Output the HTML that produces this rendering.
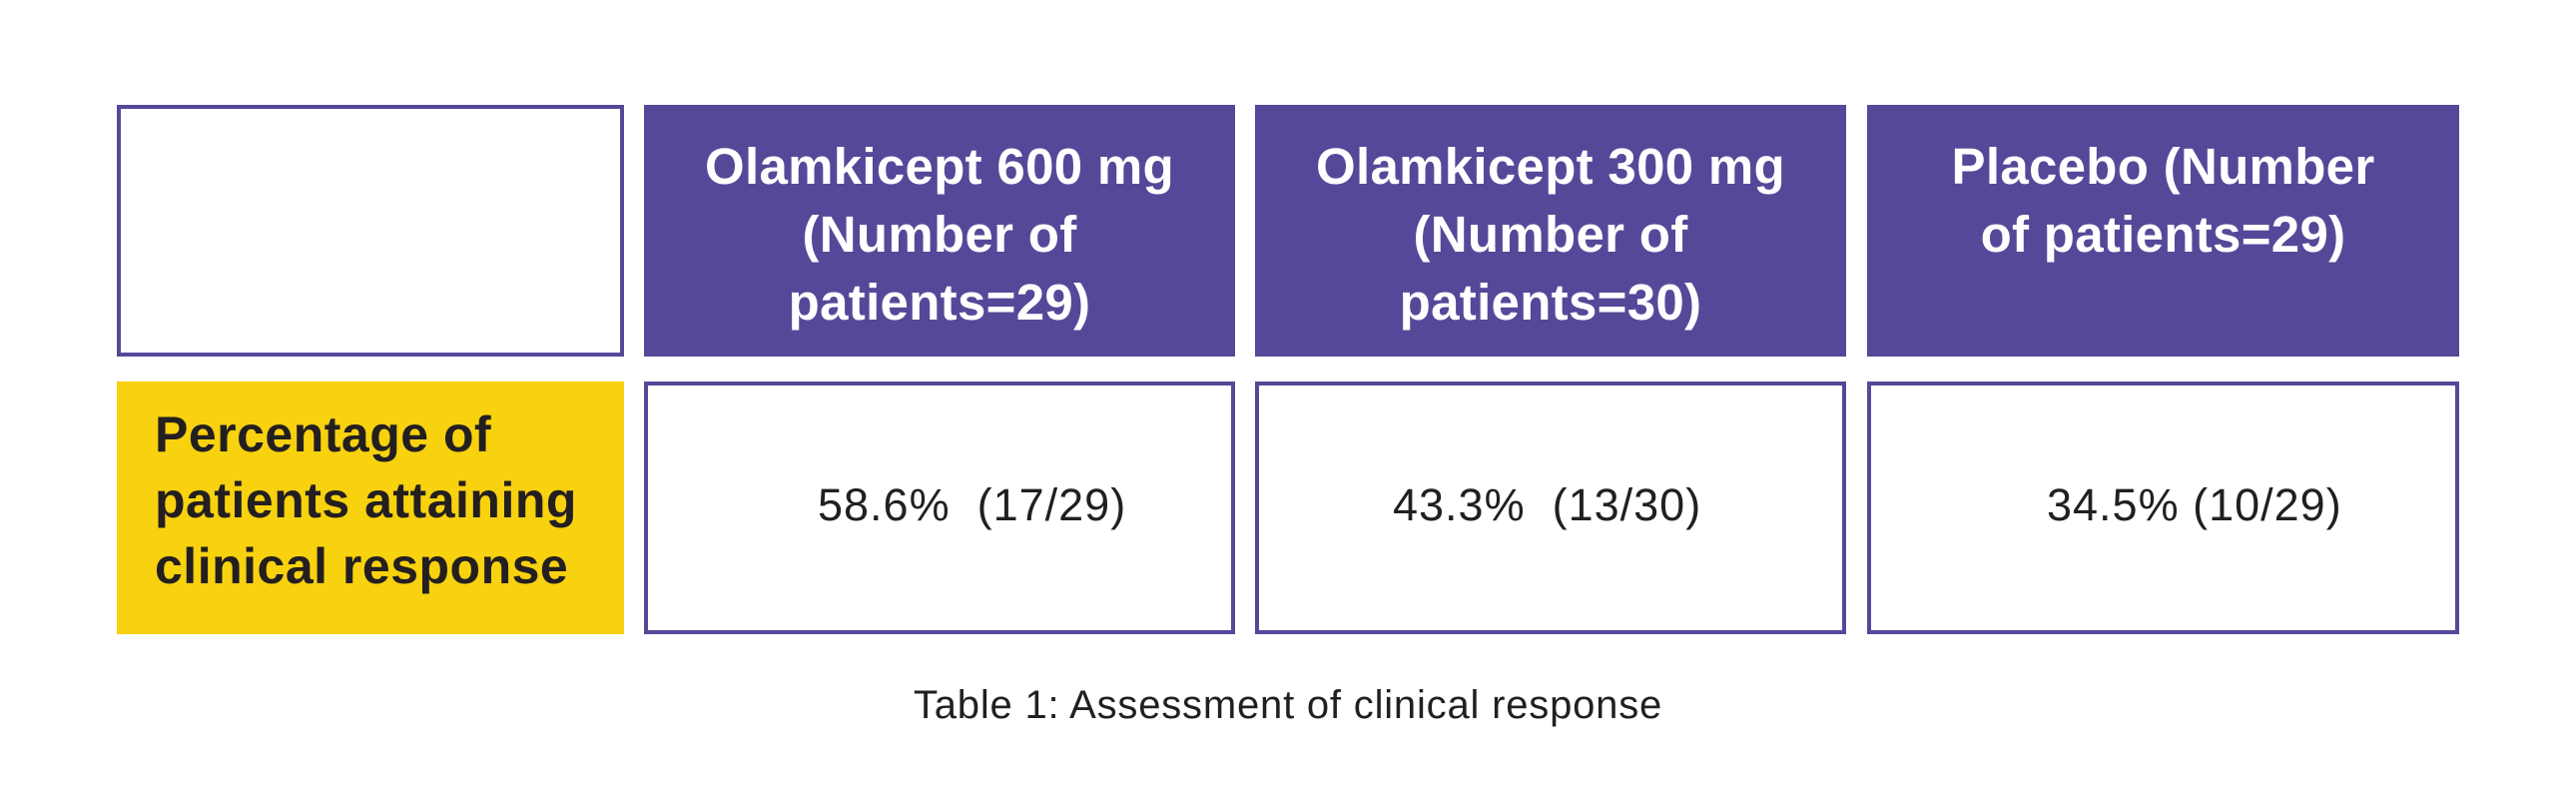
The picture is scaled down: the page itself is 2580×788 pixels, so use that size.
<!DOCTYPE html>
<html><head><meta charset="utf-8"><style>
body{margin:0;width:2580px;height:788px;background:#fff;position:relative;overflow:hidden;font-family:"Liberation Sans",sans-serif}
.b{position:absolute;box-sizing:border-box}
.o{border:4px solid #564899;background:#fff}
.h{background:#564899;color:#fff;font-weight:bold;font-size:51px;line-height:68px;text-align:center;padding-top:28px;letter-spacing:0.3px}
.y{background:#f8d10f;color:#231f20;font-weight:bold;font-size:50px;line-height:66px;padding:20px 0 0 38px;letter-spacing:0.5px}
.v{position:absolute;font-size:45px;color:#231f20;white-space:pre;letter-spacing:1px}
</style></head><body>
<div class="b o" style="left:117px;top:105px;width:508px;height:252px"></div>
<div class="b h" style="left:645px;top:105px;width:592px;height:252px">Olamkicept 600 mg<br>(Number of<br>patients=29)</div>
<div class="b h" style="left:1257px;top:105px;width:592px;height:252px">Olamkicept 300 mg<br>(Number of<br>patients=30)</div>
<div class="b h" style="left:1870px;top:105px;width:593px;height:252px">Placebo (Number<br>of patients=29)</div>
<div class="b y" style="left:117px;top:382px;width:508px;height:253px">Percentage of<br>patients attaining<br>clinical response</div>
<div class="b o" style="left:645px;top:382px;width:592px;height:253px"></div>
<div class="b o" style="left:1257px;top:382px;width:592px;height:253px"></div>
<div class="b o" style="left:1870px;top:382px;width:593px;height:253px"></div>
<div class="v" style="left:819px;top:480px">58.6%  (17/29)</div>
<div class="v" style="left:1395px;top:480px">43.3%  (13/30)</div>
<div class="v" style="left:2050px;top:480px">34.5% (10/29)</div>
<div class="v" style="left:0;width:2580px;text-align:center;top:684px;font-size:40px;letter-spacing:0.8px">Table 1: Assessment of clinical response</div>
</body></html>
